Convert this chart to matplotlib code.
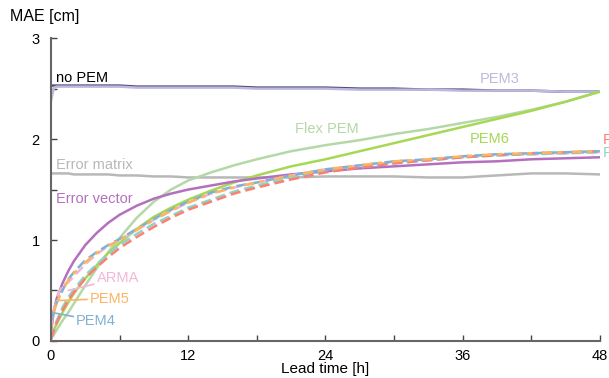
import matplotlib
matplotlib.use("Agg")
import matplotlib.pyplot as plt

plt.rcParams['font.family'] = ['Liberation Sans', 'DejaVu Sans']

# lead times [h]
hours = [0, 0.25, 0.5, 1, 1.5, 2, 3, 4, 5, 6, 7.5, 9, 10.5, 12, 14, 16, 18,
         21, 24, 27, 30, 33, 36, 39, 42, 45, 48]

# MAE [cm] per method
no_pem   = [2.53, 2.53, 2.53, 2.53, 2.53, 2.53, 2.53, 2.53, 2.53, 2.53, 2.52, 2.52, 2.52, 2.52,
            2.52, 2.52, 2.51, 2.51, 2.51, 2.50, 2.50, 2.49, 2.49, 2.48, 2.48, 2.47, 2.47]
pem3     = [2.38, 2.51, 2.52, 2.52, 2.52, 2.52, 2.52, 2.52, 2.52, 2.52, 2.51, 2.51, 2.51, 2.51,
            2.51, 2.51, 2.50, 2.50, 2.50, 2.49, 2.49, 2.49, 2.48, 2.48, 2.48, 2.47, 2.47]
flex_pem = [0.02, 0.06, 0.11, 0.20, 0.28, 0.37, 0.55, 0.72, 0.88, 1.02, 1.22, 1.38, 1.50, 1.59,
            1.67, 1.74, 1.80, 1.88, 1.94, 1.99, 2.05, 2.10, 2.16, 2.22, 2.29, 2.37, 2.47]
pem6     = [0.05, 0.11, 0.17, 0.28, 0.38, 0.47, 0.62, 0.75, 0.87, 0.97, 1.11, 1.23, 1.32, 1.40,
            1.49, 1.57, 1.64, 1.73, 1.80, 1.88, 1.96, 2.04, 2.12, 2.20, 2.28, 2.37, 2.47]
err_vec  = [0.08, 0.30, 0.42, 0.57, 0.69, 0.79, 0.95, 1.07, 1.17, 1.25, 1.34, 1.41, 1.46, 1.50,
            1.54, 1.58, 1.61, 1.65, 1.68, 1.71, 1.73, 1.75, 1.77, 1.78, 1.80, 1.81, 1.82]
err_mat  = [1.66, 1.66, 1.66, 1.66, 1.66, 1.65, 1.65, 1.65, 1.65, 1.64, 1.64, 1.63, 1.63, 1.62,
            1.62, 1.62, 1.62, 1.62, 1.63, 1.63, 1.63, 1.62, 1.62, 1.64, 1.66, 1.66, 1.65]
arma     = [0.15, 0.30, 0.42, 0.55, 0.58, 0.64, 0.76, 0.86, 0.94, 1.00, 1.10, 1.20, 1.29, 1.37,
            1.46, 1.52, 1.57, 1.64, 1.70, 1.74, 1.77, 1.80, 1.82, 1.84, 1.85, 1.86, 1.87]
pem5     = [0.12, 0.28, 0.38, 0.50, 0.60, 0.67, 0.78, 0.87, 0.94, 1.00, 1.10, 1.20, 1.29, 1.37,
            1.46, 1.52, 1.57, 1.64, 1.70, 1.74, 1.78, 1.80, 1.83, 1.85, 1.86, 1.87, 1.88]
pem4     = [0.20, 0.29, 0.38, 0.50, 0.61, 0.68, 0.80, 0.88, 0.95, 1.01, 1.11, 1.21, 1.30, 1.38,
            1.47, 1.53, 1.57, 1.64, 1.70, 1.74, 1.78, 1.80, 1.83, 1.85, 1.86, 1.87, 1.88]
pem1     = [0.02, 0.10, 0.18, 0.30, 0.40, 0.48, 0.62, 0.73, 0.83, 0.92, 1.03, 1.13, 1.22, 1.30,
            1.38, 1.46, 1.52, 1.60, 1.67, 1.72, 1.76, 1.79, 1.82, 1.84, 1.86, 1.87, 1.88]
pem2     = [0.03, 0.12, 0.20, 0.33, 0.43, 0.51, 0.65, 0.76, 0.86, 0.95, 1.06, 1.16, 1.24, 1.32,
            1.40, 1.48, 1.54, 1.62, 1.68, 1.72, 1.76, 1.79, 1.82, 1.84, 1.85, 1.86, 1.87]

c_nopem = '#4b4b78'
c_pem3 = '#bcb9dc'
c_flex = '#b4d9a6'
c_pem6 = '#a6d854'
c_vec = '#b470bf'
c_mat = '#b8b8b8'
c_arma = '#f2b6d8'
c_pem5 = '#fdb462'
c_pem4 = '#80b1d3'
c_pem1 = '#fb8072'
c_pem2 = '#8dd3c7'

fig = plt.figure(figsize=(6.09, 3.78), dpi=100)
ax = fig.add_axes([0.0837, 0.098, 0.9013, 0.801])

lw = 1.8
ax.plot(hours, err_mat, color=c_mat, lw=lw)
ax.plot(hours, no_pem, color=c_nopem, lw=lw)
ax.plot(hours, pem3, color=c_pem3, lw=lw)
ax.plot(hours, flex_pem, color=c_flex, lw=lw)
ax.plot(hours, pem6, color=c_pem6, lw=lw)
ax.plot(hours, err_vec, color=c_vec, lw=lw)

# dashed PEM variants
ax.plot(hours, arma, color=c_arma, lw=lw, dashes=(4, 2))
ax.plot(hours, pem2, color=c_pem2, lw=lw, dashes=(4, 2))
ax.plot(hours, pem1, color=c_pem1, lw=lw, dashes=(4, 2))
ax.plot(hours, pem4, color=c_pem4, lw=lw, dashes=(4, 2))
ax.plot(hours, pem5, color=c_pem5, lw=lw, dashes=(2, 4, 4, 2))

ax.set_xlim(0, 48)
ax.set_ylim(0, 3)
ax.set_xticks([0, 12, 24, 36, 48])
ax.set_xticks([6, 18, 30, 42], minor=True)
ax.set_yticks([0, 1, 2, 3])
ax.set_yticks([0.5, 1.5, 2.5], minor=True)
for s in ['top', 'right']:
    ax.spines[s].set_visible(False)
for s in ['left', 'bottom']:
    ax.spines[s].set_color('#666666')
    ax.spines[s].set_linewidth(1.5)
ax.tick_params(which='both', direction='in', length=4, width=1, color='#444444',
               labelsize=10.5)
ax.tick_params(axis='x', pad=6)
ax.tick_params(axis='y', pad=8)

ax.set_xlabel('Lead time [h]', fontsize=11, va='top')
ax.xaxis.set_label_coords(0.5, -0.07)
fig.text(0.016, 0.957, 'MAE [cm]', fontsize=11.5, va='center', ha='left')

fs = 10.5
ax.text(0.45, 2.61, 'no PEM', color='black', fontsize=fs, va='center')
ax.text(39.2, 2.60, 'PEM3', color=c_pem3, fontsize=fs, va='center', ha='center')
ax.text(24.1, 2.10, 'Flex PEM', color=c_flex, fontsize=fs, va='center', ha='center')
ax.text(38.4, 2.00, 'PEM6', color=c_pem6, fontsize=fs, va='center', ha='center')
ax.text(0.45, 1.74, 'Error matrix', color=c_mat, fontsize=fs, va='center')
ax.text(0.45, 1.41, 'Error vector', color=c_vec, fontsize=fs, va='center')
ax.text(48.25, 1.99, 'PEM1', color=c_pem1, fontsize=fs, va='center', clip_on=False)
ax.text(48.25, 1.86, 'PEM2', color=c_pem2, fontsize=fs, va='center', clip_on=False)

ax.annotate('ARMA', xy=(1.5, 0.50), xytext=(4.0, 0.62), color=c_arma, fontsize=fs,
            va='center', arrowprops=dict(arrowstyle='-', color=c_arma, lw=1.2,
                                         shrinkA=0, shrinkB=0))
ax.annotate('PEM5', xy=(0.5, 0.40), xytext=(3.4, 0.42), color=c_pem5, fontsize=fs,
            va='center', arrowprops=dict(arrowstyle='-', color=c_pem5, lw=1.2,
                                         shrinkA=0, shrinkB=0))
ax.annotate('PEM4', xy=(0.17, 0.28), xytext=(2.2, 0.20), color=c_pem4, fontsize=fs,
            va='center', arrowprops=dict(arrowstyle='-', color=c_pem4, lw=1.2,
                                         shrinkA=0, shrinkB=0))

fig.savefig('out.png', dpi=100)
